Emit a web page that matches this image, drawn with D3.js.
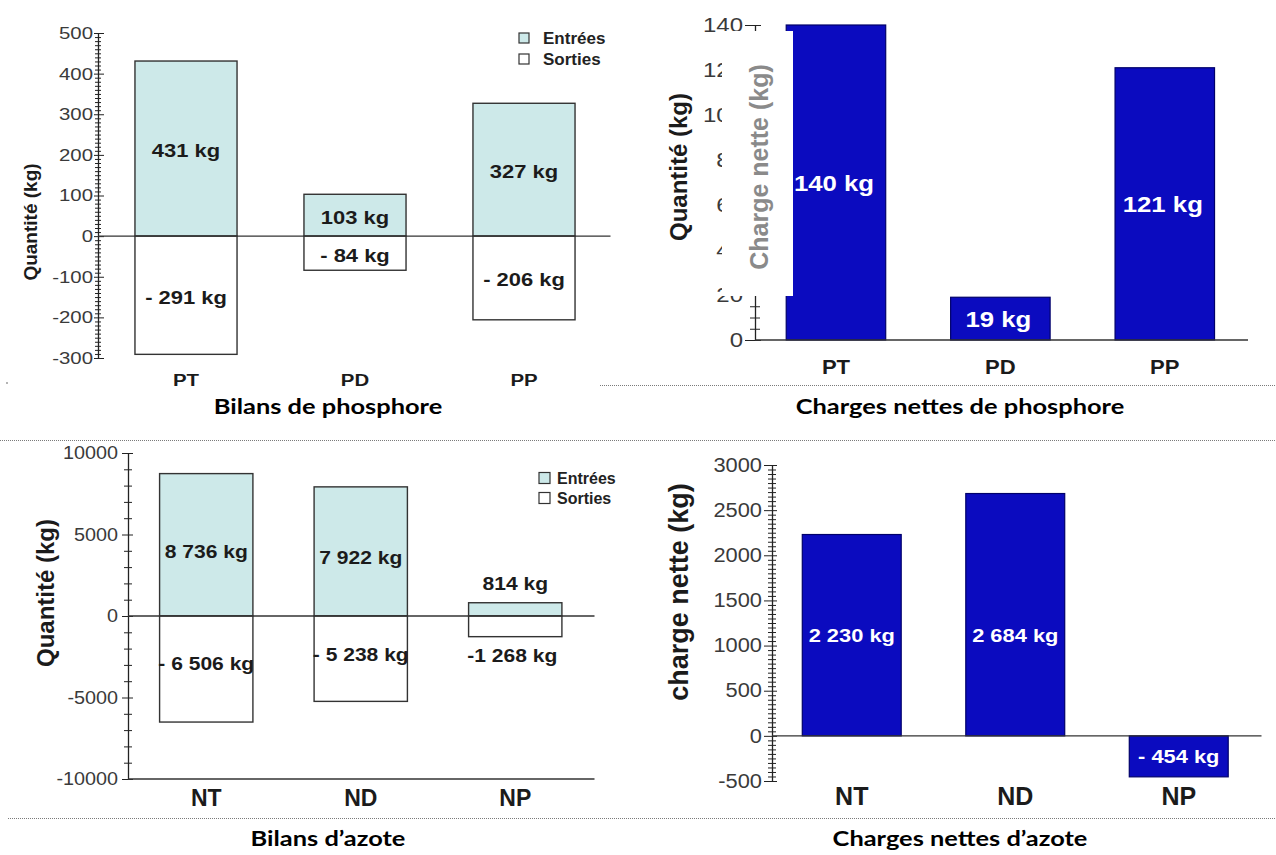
<!DOCTYPE html>
<html>
<head>
<meta charset="utf-8">
<script src="https://cdn.jsdelivr.net/npm/d3@7"></script>
<style>
  html, body { margin: 0; padding: 0; background: #fff; }
  svg { display: block; }
</style>
</head>
<body>
<svg id="fig" width="1276" height="855"></svg>
<script>
// ---- Phosphore ----
const phosCategories = ["PT", "PD", "PP"];
const phosEntrees = [431, 103, 327];
const phosSorties = [-291, -84, -206];
const phosNet = [140, 19, 121];

// ---- Azote ----
const azoteCategories = ["NT", "ND", "NP"];
const azoteEntrees = [8736, 7922, 814];
const azoteSorties = [-6506, -5238, -1268];
const azoteNet = [2230, 2684, -454];

// ---- Axis ticks ----
const bilanPTicks = [-300, -200, -100, 0, 100, 200, 300, 400, 500];
const chargePTicks = [0, 20, 40, 60, 80, 100, 120, 140];
const bilanNTicks = [-10000, -5000, 0, 5000, 10000];
const chargeNTicks = [-500, 0, 500, 1000, 1500, 2000, 2500, 3000];

const legendLabels = ["Entrées", "Sorties"];
const captions = ["Bilans de phosphore", "Charges nettes de phosphore", "Bilans d’azote", "Charges nettes d’azote"];

const SANS = "'Liberation Sans', Arial, Helvetica, sans-serif";
const CAPTION_FONT = "Lato, 'Open Sans', sans-serif";
const CYAN = "#cde9e9";
const BLUE = "#0b0bbf";
const BLUE_EDGE = "#00006a";
const INK = "#1b1b1b";

const svg = d3.select("#fig");

// French number format: groups separated by a space
const fr = d3.formatLocale({ decimal: ",", thousands: " ", grouping: [3], currency: ["", ""] }).format(",d");
const kg = (v, gap = " ") => (v < 0 ? "-" + gap : "") + fr(Math.abs(v)) + " kg";
const tickText = d => String(d);

function label(g, x, y, s, o) {
  return g.append("text")
    .attr("transform", `translate(${x},${y}) scale(${o.sx || 1},1)`)
    .attr("text-anchor", o.anchor || "middle")
    .attr("dy", "0.36em")
    .attr("font-family", o.family || SANS)
    .attr("font-weight", o.weight || "bold")
    .attr("font-size", o.fs)
    .attr("fill", o.fill || INK)
    .text(s);
}

function vLabel(g, x, y, s, o) {
  return g.append("text")
    .attr("transform", `translate(${x},${y}) rotate(-90)`)
    .attr("text-anchor", "middle")
    .attr("dy", "0.36em")
    .attr("font-family", SANS)
    .attr("font-weight", "bold")
    .attr("font-size", o.fs)
    .attr("fill", o.fill || INK)
    .text(s);
}

// Vertical axis with crossing major ticks and small crossing minor ticks
function yAxis(g, y, major, minorStep, o) {
  const [lo, hi] = y.domain();
  const minor = d3.range(lo, hi + minorStep / 2, minorStep).filter(v => !major.includes(v));
  const gm = g.append("g").attr("transform", `translate(${o.x},0)`);
  gm.call(d3.axisLeft(y).tickValues(minor).tickSize(o.minL).tickFormat(""));
  gm.select(".domain").remove();
  gm.selectAll(".tick line").attr("x1", o.minR).attr("stroke", "#222");

  const ga = g.append("g").attr("transform", `translate(${o.x},0)`);
  ga.call(d3.axisLeft(y).tickValues(major).tickFormat(tickText)
    .tickSizeInner(o.majL).tickSizeOuter(0).tickPadding(o.pad));
  ga.select(".domain").attr("stroke", "#222").attr("stroke-width", 1.3);
  ga.selectAll(".tick line").attr("x1", o.majR).attr("stroke", "#222");
  ga.selectAll(".tick text")
    .attr("font-family", SANS)
    .attr("font-size", o.fs)
    .attr("fill", o.tc || "#3a3a3a")
    .attr("x", -(o.majL + o.pad) / o.sx)
    .attr("transform", `scale(${o.sx},1)`);
  return ga;
}

function legend(g, x, y0, gap, size, o) {
  const fills = [CYAN, "#fff"];
  legendLabels.forEach((t, i) => {
    const cy = y0 + i * gap;
    g.append("rect").attr("x", x).attr("y", cy - size / 2).attr("width", size).attr("height", size)
      .attr("fill", fills[i]).attr("stroke", "#333").attr("stroke-width", 1.2);
    label(g, x + o.dx, cy, t, { fs: o.fs, anchor: "start", fill: "#222" });
  });
}

// Entrées / sorties balance chart
function bilanChart(o) {
  const g = svg.append("g");
  const y = d3.scaleLinear().domain(o.domain).range(o.yRange);
  const x = d3.scaleBand().domain(o.cats).range(o.xRange).paddingInner(0.396).paddingOuter(0.198);
  const bw = x.bandwidth();
  const rows = o.cats.map((c, i) => ({ c, inV: o.inV[i], outV: o.outV[i] }));

  yAxis(g, y, o.ticks, o.minorStep, o.axis);

  g.selectAll("rect.in").data(rows).join("rect").attr("class", "in")
    .attr("x", d => x(d.c)).attr("y", d => y(d.inV))
    .attr("width", bw).attr("height", d => y(0) - y(d.inV))
    .attr("fill", CYAN).attr("stroke", "#333").attr("stroke-width", 1.4);
  g.selectAll("rect.out").data(rows).join("rect").attr("class", "out")
    .attr("x", d => x(d.c)).attr("y", y(0))
    .attr("width", bw).attr("height", d => y(d.outV) - y(0))
    .attr("fill", "#fff").attr("stroke", "#333").attr("stroke-width", 1.4);

  // zero line
  g.append("line").attr("x1", o.axis.x).attr("x2", o.xRange[1] + 2)
    .attr("y1", y(0)).attr("y2", y(0)).attr("stroke", "#333").attr("stroke-width", 1.3);
  if (o.bottomLine) {
    g.append("line").attr("x1", o.axis.x).attr("x2", o.xRange[1] + 2)
      .attr("y1", y(o.domain[0])).attr("y2", y(o.domain[0])).attr("stroke", "#333").attr("stroke-width", 1.3);
  }

  rows.forEach(d => {
    const cx = x(d.c) + bw / 2;
    const hIn = y(0) - y(d.inV), hOut = y(d.outV) - y(0);
    if (hIn < 30) label(g, cx, y(d.inV) - 19, kg(d.inV), o.val);
    else label(g, cx, y(d.inV * o.labelFrac) + o.labelShift, kg(d.inV), o.val);
    if (hOut < 30) label(g, cx - 3, y(d.outV) + 19, kg(d.outV, ""), o.val);
    else label(g, cx, y(d.outV * o.labelFrac) + o.labelShift, kg(d.outV), o.val);
    label(g, cx + o.catDx, o.catY, d.c, o.cat);
  });

  vLabel(g, o.yTitle[0], o.yTitle[1], "Quantité (kg)", { fs: o.yTitle[2] });
  legend(g, o.legend.x, o.legend.y, o.legend.gap, o.legend.size, o.legend);
  return g;
}

// Net load chart (solid blue bars)
function chargeChart(o) {
  const g = svg.append("g");
  const y = d3.scaleLinear().domain(o.domain).range(o.yRange);
  const x = d3.scaleBand().domain(o.cats).range(o.xRange).paddingInner(0.395).paddingOuter(0.1975);
  const bw = x.bandwidth();
  const rows = o.cats.map((c, i) => ({ c, v: o.values[i] }));

  yAxis(g, y, o.ticks, o.minorStep, o.axis);

  g.selectAll("rect.bar").data(rows).join("rect").attr("class", "bar")
    .attr("x", d => x(d.c)).attr("y", d => y(Math.max(0, d.v)))
    .attr("width", bw).attr("height", d => Math.abs(y(d.v) - y(0)))
    .attr("fill", BLUE).attr("stroke", BLUE_EDGE).attr("stroke-width", 1.2);

  g.append("line").attr("x1", o.axis.x).attr("x2", o.xRange[1] + 1)
    .attr("y1", y(0)).attr("y2", y(0)).attr("stroke", "#333").attr("stroke-width", 1.3);

  const posMin = d3.min(rows.filter(d => d.v > 0), d => d.v);
  rows.forEach(d => {
    const cx = x(d.c) + bw / 2;
    const ly = o.alignPositive && d.v > 0 ? y(posMin / 2) : y(d.v / 2);
    label(g, cx + o.valDx, ly, kg(d.v), o.val);
    label(g, cx, o.catY, d.c, o.cat);
  });
  return { g, x, y };
}

// ---------- Bilans de phosphore ----------
bilanChart({
  cats: phosCategories, inV: phosEntrees, outV: phosSorties,
  domain: [-300, 500], yRange: [358, 33], xRange: [101.5, 608.5],
  ticks: bilanPTicks, minorStep: 10,
  axis: { x: 98, majL: 4, majR: 6, minL: 3, minR: 3, pad: 1, fs: 17, sx: 1.2 },
  val: { fs: 18, sx: 1.22 }, labelFrac: 0.5, labelShift: 2,
  cat: { fs: 17, sx: 1.2 }, catY: 380, catDx: 0,
  yTitle: [30, 222, 19],
  legend: { x: 519, y: 38, gap: 21, size: 10, dx: 24, fs: 17 }
});

// ---------- Charges nettes de phosphore ----------
const cp = chargeChart({
  cats: phosCategories, values: phosNet,
  domain: [0, 140], yRange: [340, 25], xRange: [753.75, 1247],
  ticks: chargePTicks, minorStep: 5,
  axis: { x: 755, majL: 10, majR: 6, minL: 5, minR: 5, pad: 2, fs: 20, sx: 1.2 },
  val: { fs: 23, sx: 1.12, fill: "#fff" }, valDx: -2,
  cat: { fs: 21, sx: 1.05 }, catY: 366, alignPositive: false
});
vLabel(cp.g, 678, 167, "Quantité (kg)", { fs: 24 });
// relabelled axis title on a white panel laid over the old one
cp.g.append("rect").attr("x", 722).attr("y", 31).attr("width", 71).attr("height", 265).attr("fill", "#fff");
vLabel(cp.g, 759, 167, "Charge nette (kg)", { fs: 25, fill: "#8a8a8a" });

// ---------- Bilans d'azote ----------
bilanChart({
  cats: azoteCategories, inV: azoteEntrees, outV: azoteSorties,
  domain: [-10000, 10000], yRange: [779, 453], xRange: [129, 592.5],
  ticks: bilanNTicks, minorStep: 1000, bottomLine: true,
  axis: { x: 128, majL: 6, majR: 5, minL: 4, minR: 4, pad: 4, fs: 18, sx: 1.1 },
  val: { fs: 18, sx: 1.17 }, labelFrac: 0.45, labelShift: 0,
  cat: { fs: 23, sx: 1.0 }, catY: 798, catDx: 0,
  yTitle: [45, 593, 24],
  legend: { x: 539, y: 478, gap: 20, size: 11, dx: 18, fs: 16 }
});

// ---------- Charges nettes d'azote ----------
const cn = chargeChart({
  cats: azoteCategories, values: azoteNet,
  domain: [-500, 3000], yRange: [781, 465], xRange: [770, 1260.5],
  ticks: chargeNTicks, minorStep: 50,
  axis: { x: 772, majL: 8, majR: 5, minL: 4, minR: 4, pad: 2, fs: 19.5, sx: 1.12 },
  val: { fs: 19, sx: 1.15, fill: "#fff" }, valDx: 0,
  cat: { fs: 25, sx: 1.0 }, catY: 796, alignPositive: true
});
vLabel(cn.g, 678, 592, "charge nette (kg)", { fs: 27 });

// ---------- Captions and dotted rules ----------
const cap = svg.append("g");
[[328, 407], [960, 407], [328, 839], [960, 839]].forEach((p, i) => {
  label(cap, p[0], p[1], captions[i], { fs: 20, sx: 1.27, family: CAPTION_FONT, fill: "#000" });
});

const rules = svg.append("g").attr("stroke", "#7a7a7a").attr("stroke-width", 1).attr("stroke-dasharray", "1,1");
[[600, 1276, 385.5], [0, 1276, 440.5], [8, 1276, 818.5]].forEach(r => {
  rules.append("line").attr("x1", r[0]).attr("x2", r[1]).attr("y1", r[2]).attr("y2", r[2]);
});
svg.append("circle").attr("cx", 7).attr("cy", 383).attr("r", 0.8).attr("fill", "#555");
</script>
</body>
</html>
